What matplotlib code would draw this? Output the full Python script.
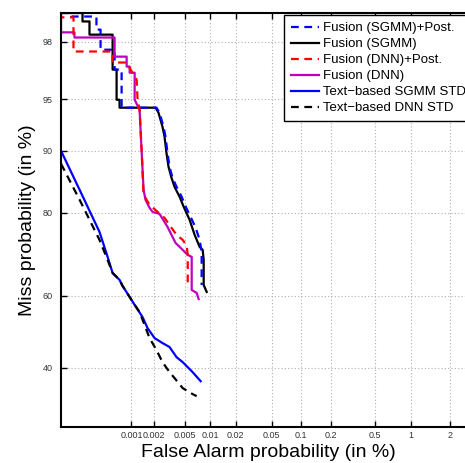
import math
from statistics import NormalDist
import numpy as np
import matplotlib
matplotlib.use("Agg")
import matplotlib.pyplot as plt
from matplotlib.ticker import NullLocator

plt.rcParams['font.family'] = ['Liberation Sans', 'DejaVu Sans']

# ---------------- data (percent) ----------------
sgmm_post_fa = [1.0e-4, 1.43e-4, 1.43e-4, 3.28e-4, 3.28e-4, 3.75e-4, 3.75e-4, 5.89e-4, 5.89e-4,
                7.36e-4, 7.36e-4, 2.15e-3, 2.35e-3, 2.65e-3, 2.81e-3, 2.98e-3, 3.16e-3, 3.45e-3,
                3.88e-3, 4.50e-3, 5.06e-3, 5.65e-3, 6.70e-3, 7.49e-3, 7.92e-3, 7.92e-3]
sgmm_post_miss = [98.8, 98.8, 98.72, 98.72, 98.38, 98.38, 97.71, 97.71, 96.83, 96.83, 94.37,
                  94.37, 93.96, 92.67, 91.64, 89.74, 87.86, 86.22, 84.77, 83.03, 81.18, 79.61,
                  76.91, 74.24, 71.41, 62.97]

sgmm_fa = [1.0e-4, 2.07e-4, 2.07e-4, 2.61e-4, 2.61e-4, 5.53e-4, 5.53e-4, 6.28e-4, 6.28e-4,
           6.90e-4, 6.90e-4, 2.09e-3, 2.28e-3, 2.57e-3, 2.73e-3, 2.89e-3, 3.07e-3, 3.35e-3,
           3.66e-3, 4.24e-3, 4.77e-3, 5.65e-3, 6.51e-3, 7.49e-3, 8.15e-3, 8.38e-3, 8.38e-3, 9.11e-3]
sgmm_miss = [98.8, 98.8, 98.60, 98.60, 98.23, 98.23, 96.83, 96.83, 94.98, 94.98, 94.37, 94.37,
             93.96, 92.67, 91.64, 89.74, 87.86, 86.22, 84.77, 83.03, 81.18, 78.58, 75.37, 72.60,
             71.90, 69.45, 62.97, 61.10]

dnn_post_fa = [1.0e-4, 1.0e-4, 1.53e-4, 1.53e-4, 5.53e-4, 5.53e-4, 8.62e-4, 1.01e-3, 1.175e-3,
               1.21e-3, 1.287e-3, 1.368e-3, 1.454e-3, 1.745e-3, 2.15e-3, 2.73e-3, 3.35e-3,
               3.88e-3, 4.63e-3, 5.20e-3, 5.35e-3, 5.35e-3]
dnn_post_miss = [98.8, 98.70, 98.70, 97.64, 97.64, 97.17, 97.17, 96.73, 96.29, 94.98, 94.20,
                 90.13, 83.40, 81.57, 80.40, 79.00, 76.91, 75.37, 74.24, 72.84, 70.68, 62.17]

dnn_fa = [1.0e-4, 1.0e-4, 1.58e-4, 1.58e-4, 5.89e-4, 5.89e-4, 8.62e-4, 8.62e-4, 9.47e-4, 9.47e-4,
          1.106e-3, 1.106e-3, 1.287e-3, 1.368e-3, 1.454e-3, 1.545e-3, 1.745e-3, 1.91e-3, 2.35e-3,
          2.98e-3, 3.35e-3, 3.77e-3, 4.50e-3, 5.35e-3, 5.99e-3, 5.99e-3, 6.89e-3, 7.28e-3]
dnn_miss = [98.8, 98.30, 98.30, 98.14, 98.14, 97.43, 97.43, 96.98, 96.98, 96.67, 96.67, 94.98,
            94.20, 90.13, 84.25, 82.49, 80.99, 80.20, 79.81, 77.12, 75.37, 73.53, 72.13, 70.68,
            70.20, 61.64, 60.83, 59.17]

text_sgmm_fa = [1.0e-4, 1.88e-4, 3.62e-4, 4.71e-4, 5.53e-4, 6.90e-4, 7.59e-4, 9.47e-4, 1.106e-3,
                1.41e-3, 1.64e-3, 2.03e-3, 2.57e-3, 3.16e-3, 3.88e-3, 4.63e-3, 6.15e-3, 7.70e-3]
text_sgmm_miss = [90.0, 84.25, 76.03, 70.20, 66.13, 64.32, 62.71, 59.72, 57.53, 54.14, 51.04,
                  48.21, 46.81, 45.70, 42.86, 41.49, 38.74, 36.32]

text_dnn_fa = [1.0e-4, 1.88e-4, 3.62e-4, 4.71e-4, 5.53e-4, 6.90e-4, 7.59e-4, 9.47e-4, 1.106e-3,
               1.287e-3, 1.50e-3, 1.745e-3, 2.15e-3, 2.57e-3, 3.16e-3, 3.66e-3, 4.63e-3,
               6.15e-3, 6.89e-3]
text_dnn_miss = [88.29, 82.49, 74.24, 69.45, 66.13, 64.32, 62.71, 59.72, 57.53, 55.56, 51.90,
                 48.21, 44.83, 41.49, 38.74, 37.14, 34.49, 32.94, 32.42]

x_ticks = [0.001, 0.002, 0.005, 0.01, 0.02, 0.05, 0.1, 0.2, 0.5, 1, 2]
x_tick_labels = ['0.001', '0.002', '0.005', '0.01', '0.02', '0.05', '0.1', '0.2', '0.5', '1', '2']
y_ticks = [40, 60, 80, 90, 95, 98]
y_tick_labels = ['40', '60', '80', '90', '95', '98']

# ---------------- probit scale ----------------
_nd = NormalDist()


def fwd(v):
    a = np.asarray(v, dtype=float)
    flat = a.ravel()
    out = np.array([_nd.inv_cdf(min(max(x / 100.0, 1e-12), 1 - 1e-12)) if np.isfinite(x) else np.nan
                    for x in flat], dtype=float)
    return out.reshape(a.shape)


def inv(z):
    a = np.asarray(z, dtype=float)
    flat = a.ravel()
    out = np.array([50.0 * (1.0 + math.erf(x / math.sqrt(2.0))) if np.isfinite(x) else np.nan
                    for x in flat], dtype=float)
    return out.reshape(a.shape)


fig = plt.figure(figsize=(4.65, 4.63), dpi=100)
ax = fig.add_axes([61 / 465, 36 / 463, 414 / 465, 414 / 463])
ax.set_xscale('function', functions=(fwd, inv))
ax.set_yscale('function', functions=(fwd, inv))
ax.set_xlim(1e-4, 3)
ax.set_ylim(25, 98.8)

lw = 1.6
series = [
    (sgmm_post_fa, sgmm_post_miss, 'b', '--', 'Fusion (SGMM)+Post.'),
    (sgmm_fa, sgmm_miss, 'k', '-', 'Fusion (SGMM)'),
    (dnn_post_fa, dnn_post_miss, 'r', '--', 'Fusion (DNN)+Post.'),
    (dnn_fa, dnn_miss, 'm', '-', 'Fusion (DNN)'),
    (text_sgmm_fa, text_sgmm_miss, 'b', '-', 'Text\u2212based SGMM STD'),
    (text_dnn_fa, text_dnn_miss, 'k', '--', 'Text\u2212based DNN STD'),
]
# draw order: solid under dashed for fusion pairs
draw_order = [1, 0, 3, 2, 4, 5]
handles = [None] * len(series)
for i in draw_order:
    fa, miss, c, ls, lab = series[i]
    ln, = ax.plot(fa, miss, color=c, linestyle=ls, linewidth=lw, label=lab,
                  dashes=(3.5, 2.5) if ls == '--' else (None, None))
    handles[i] = ln

ax.set_xticks(x_ticks, x_tick_labels)
ax.set_yticks(y_ticks, y_tick_labels)
ax.xaxis.set_minor_locator(NullLocator())
ax.yaxis.set_minor_locator(NullLocator())
ax.tick_params(axis='x', direction='in', top=True, bottom=True, length=4, width=1,
               labelsize=6.5, pad=3, labelcolor='#333333')
ax.tick_params(axis='y', direction='in', left=True, right=True, length=4, width=1,
               labelsize=6.5, pad=6, labelcolor='#333333')
ax.grid(True, linestyle=(0, (1, 2)), color='#b0b0b0', linewidth=0.8)
for s in ax.spines.values():
    s.set_linewidth(1.5)

ax.set_xlabel('False Alarm probability (in %)', fontsize=14, labelpad=3)
ax.set_ylabel('Miss probability (in %)', fontsize=14, labelpad=5)

leg = ax.legend(handles=handles, loc='upper left', bbox_to_anchor=(284 / 465, 448 / 463),
                bbox_transform=fig.transFigure, borderaxespad=0, fontsize=9.5,
                handlelength=2.1, handletextpad=0.3, labelspacing=0.28, borderpad=0.55,
                fancybox=False, framealpha=1, edgecolor='k')
leg.get_frame().set_linewidth(1.0)

fig.savefig('out.png', dpi=100)
